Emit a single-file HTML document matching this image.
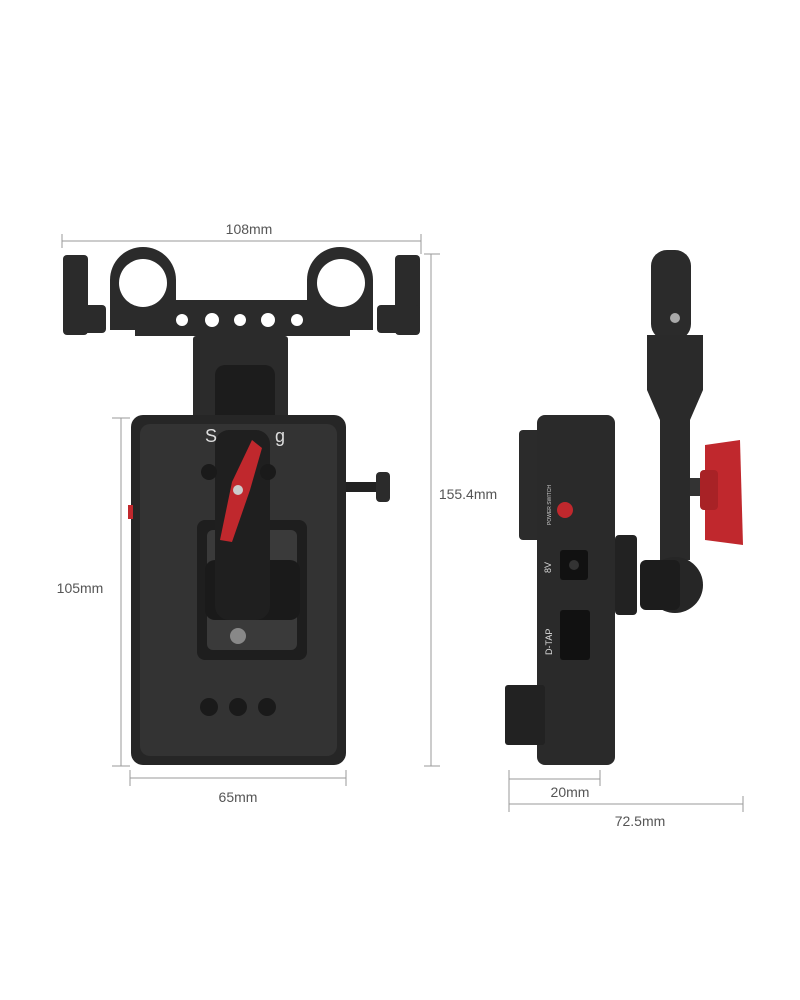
<!DOCTYPE html>
<html><head><style>
html,body{margin:0;padding:0;background:#fff;}
svg{display:block;font-family:"Liberation Sans",sans-serif;}
</style></head><body>
<svg width="800" height="1000" viewBox="0 0 800 1000" xmlns="http://www.w3.org/2000/svg">
<rect width="800" height="1000" fill="#fff"/>
<g stroke="#9a9a9a" stroke-width="1" fill="none">
<line x1="62" y1="241" x2="421" y2="241"/><line x1="62" y1="234" x2="62" y2="248"/><line x1="421" y1="234" x2="421" y2="254"/>
<line x1="431" y1="254" x2="431" y2="766"/><line x1="424" y1="254" x2="440" y2="254"/><line x1="424" y1="766" x2="440" y2="766"/>
<line x1="121" y1="418" x2="121" y2="766"/><line x1="112" y1="418" x2="130" y2="418"/><line x1="112" y1="766" x2="130" y2="766"/>
<line x1="130" y1="778" x2="346" y2="778"/><line x1="130" y1="770" x2="130" y2="786"/><line x1="346" y1="770" x2="346" y2="786"/>
<line x1="509" y1="779" x2="600" y2="779"/><line x1="509" y1="770" x2="509" y2="812"/><line x1="600" y1="770" x2="600" y2="786"/>
<line x1="509" y1="804" x2="743" y2="804"/><line x1="743" y1="796" x2="743" y2="812"/>
</g>
<g fill="#555" font-size="14">
<text x="249" y="234" text-anchor="middle">108mm</text>
<text x="468" y="499" text-anchor="middle">155.4mm</text>
<text x="80" y="593" text-anchor="middle">105mm</text>
<text x="238" y="802" text-anchor="middle">65mm</text>
<text x="570" y="797" text-anchor="middle">20mm</text>
<text x="640" y="826" text-anchor="middle">72.5mm</text>
</g>
<!-- left device: rod clamp -->
<g fill="#2b2b2b">
<rect x="63" y="255" width="25" height="80" rx="4"/>
<rect x="66" y="305" width="40" height="28" rx="4"/>
<rect x="395" y="255" width="25" height="80" rx="4"/>
<rect x="377" y="305" width="43" height="28" rx="4"/>
<path d="M110 330 L110 280 A33 33 0 0 1 176 280 L176 300 L307 300 L307 280 A33 33 0 0 1 373 280 L373 330 Z"/>
<rect x="135" y="300" width="215" height="36"/>
<rect x="193" y="336" width="95" height="90" rx="3"/>
<rect x="215" y="365" width="60" height="70" rx="10" fill="#1c1c1c"/>
</g>
<circle cx="143" cy="283" r="24" fill="#fff"/><circle cx="341" cy="283" r="24" fill="#fff"/>
<g fill="#fff"><circle cx="182" cy="320" r="6"/><circle cx="212" cy="320" r="7"/><circle cx="240" cy="320" r="6"/><circle cx="268" cy="320" r="7"/><circle cx="297" cy="320" r="6"/></g>
<!-- plate -->
<rect x="131" y="415" width="215" height="350" rx="12" fill="#262626"/>
<rect x="140" y="424" width="197" height="332" rx="10" fill="#333"/>
<rect x="197" y="520" width="110" height="140" rx="8" fill="#1e1e1e"/>
<rect x="207" y="530" width="90" height="120" rx="6" fill="#3a3a3a"/>
<rect x="205" y="560" width="95" height="60" rx="10" fill="#1a1a1a"/>
<rect x="215" y="430" width="55" height="190" rx="14" fill="#1f1f1f"/>
<rect x="346" y="482" width="30" height="10" fill="#222"/><rect x="376" y="472" width="14" height="30" rx="4" fill="#2b2b2b"/>
<rect x="128" y="505" width="5" height="14" fill="#c0282d"/>
<circle cx="238" cy="636" r="8" fill="#888"/>
<g fill="#1a1a1a"><circle cx="209" cy="707" r="9"/><circle cx="238" cy="707" r="9"/><circle cx="267" cy="707" r="9"/><circle cx="209" cy="472" r="8"/><circle cx="268" cy="472" r="8"/></g>
<path d="M232 482 L252 440 L262 448 L250 490 L232 542 L220 540 Z" fill="#c0282d"/>
<circle cx="238" cy="490" r="5" fill="#ccc"/>
<text x="205" y="442" fill="#ddd" font-size="18">S</text><text x="275" y="442" fill="#ddd" font-size="18">g</text>
<!-- right device -->
<rect x="519" y="430" width="25" height="110" rx="4" fill="#2b2b2b"/>
<rect x="537" y="415" width="78" height="350" rx="8" fill="#2a2a2a"/>
<rect x="505" y="685" width="40" height="60" rx="3" fill="#222"/>
<rect x="615" y="535" width="22" height="80" rx="4" fill="#222"/>
<circle cx="565" cy="510" r="8" fill="#c0282d"/>
<rect x="560" y="550" width="28" height="30" rx="3" fill="#111"/><circle cx="574" cy="565" r="5" fill="#333"/>
<rect x="560" y="610" width="30" height="50" rx="3" fill="#111"/>
<text x="0" y="0" transform="translate(551 573) rotate(-90)" fill="#ddd" font-size="9">8V</text>
<text x="0" y="0" transform="translate(552 655) rotate(-90)" fill="#ddd" font-size="9">D-TAP</text>
<text x="0" y="0" transform="translate(551 525) rotate(-90)" fill="#ccc" font-size="5">POWER SWITCH</text>
<rect x="651" y="250" width="40" height="90" rx="16" fill="#2b2b2b"/>
<circle cx="675" cy="318" r="5" fill="#aaa"/>
<path d="M647 335 L703 335 L703 390 L690 420 L690 560 L660 560 L660 420 L647 390 Z" fill="#2a2a2a"/>
<circle cx="675" cy="585" r="28" fill="#262626"/>
<rect x="640" y="560" width="40" height="50" rx="6" fill="#1c1c1c"/>
<rect x="690" y="478" width="20" height="18" fill="#333"/>
<path d="M705 445 L740 440 L743 545 L705 540 Z" fill="#c0282d"/>
<rect x="700" y="470" width="18" height="40" rx="4" fill="#a82226"/>
</svg>
</body></html>
